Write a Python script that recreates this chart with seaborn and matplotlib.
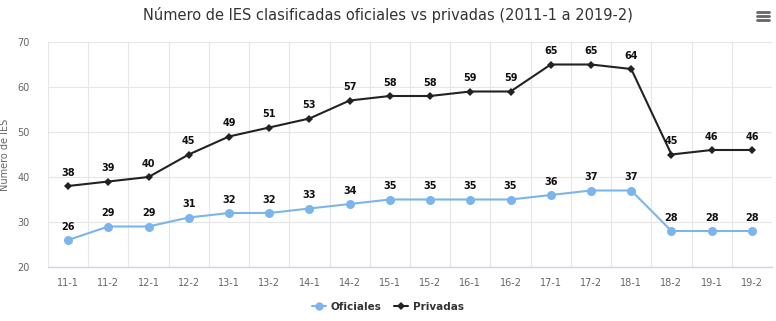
import matplotlib
matplotlib.use("Agg")
import matplotlib.pyplot as plt
import seaborn as sns
import pandas as pd
from matplotlib.lines import Line2D

periodos = ["11-1", "11-2", "12-1", "12-2", "13-1", "13-2", "14-1", "14-2", "15-1",
            "15-2", "16-1", "16-2", "17-1", "17-2", "18-1", "18-2", "19-1", "19-2"]
oficiales = [26, 29, 29, 31, 32, 32, 33, 34, 35, 35, 35, 35, 36, 37, 37, 28, 28, 28]
privadas = [38, 39, 40, 45, 49, 51, 53, 57, 58, 58, 59, 59, 65, 65, 64, 45, 46, 46]
y_ticks = [20, 30, 40, 50, 60, 70]

sns.set_theme(style="white")
plt.rcParams["font.family"] = ["DejaVu Sans"]

df = pd.DataFrame({
    "periodo": periodos * 2,
    "pos": list(range(len(periodos))) * 2,
    "valor": oficiales + privadas,
    "tipo": ["Oficiales"] * len(periodos) + ["Privadas"] * len(periodos),
})

colores = {"Oficiales": "#7cb5ec", "Privadas": "#222226"}
marcas = {"Oficiales": "o", "Privadas": "D"}
tamanos = {"Oficiales": 6.5, "Privadas": 4.5}

fig = plt.figure(figsize=(7.76, 3.21), dpi=100)
ax = fig.add_axes([48 / 776, 1 - 267 / 321, 724 / 776, 225 / 321])

for tipo in ["Oficiales", "Privadas"]:
    sub = df[df["tipo"] == tipo]
    sns.lineplot(data=sub, x="pos", y="valor", ax=ax, color=colores[tipo],
                 marker=marcas[tipo], markersize=tamanos[tipo],
                 markeredgewidth=0, linewidth=1.5, legend=False, zorder=3)
    for x, v in zip(sub["pos"], sub["valor"]):
        ax.annotate(str(v), (x, v), xytext=(0, 6), textcoords="offset points",
                    ha="center", va="bottom", fontsize=7, fontweight="bold",
                    color="#111111", zorder=4)

n = len(periodos)
ax.set_xlim(-0.5, n - 0.5)
ax.set_ylim(20, 70)
ax.set_yticks(y_ticks)
ax.set_xticks(range(n))
ax.set_xticklabels(periodos)
ax.tick_params(axis="both", labelsize=7, colors="#666666", length=0)
ax.tick_params(axis="x", pad=8)
ax.tick_params(axis="y", pad=13)

# category-boundary grid
for b in range(n + 1):
    ax.axvline(b - 0.5, color="#e6e6e6", linewidth=0.8, zorder=0)
for t in y_ticks:
    ax.axhline(t, color="#e6e6e6", linewidth=0.8, zorder=0)
for s in ["top", "right", "left"]:
    ax.spines[s].set_visible(False)
ax.spines["bottom"].set_color("#ccd6eb")
ax.spines["bottom"].set_linewidth(1)
ax.grid(False)

ax.set_xlabel("")
ax.set_ylabel("Numero de IES", fontsize=7, color="#666666")
ax.yaxis.set_label_coords(-38 / 724, 0.5)

fig.text(0.5, 1 - 15 / 321, "Número de IES clasificadas oficiales vs privadas (2011-1 a 2019-2)",
         ha="center", va="center", fontsize=10.5, color="#333333")

# menu icon
for dy in (-4, 0, 4):
    fig.add_artist(Line2D([757 / 776, 769 / 776], [1 - (16 + dy) / 321] * 2,
                          color="#666666", linewidth=2))

handles = [
    Line2D([], [], color=colores["Oficiales"], marker="o", markersize=6, markeredgewidth=0, linewidth=1.5),
    Line2D([], [], color=colores["Privadas"], marker="D", markersize=4, markeredgewidth=0, linewidth=1.5),
]
fig.legend(handles, ["Oficiales", "Privadas"], loc="center", bbox_to_anchor=(0.5, 1 - 307 / 321),
           ncol=2, frameon=False, prop={"size": 7.5, "weight": "bold"}, handlelength=1.3,
           handletextpad=0.5, columnspacing=1.2, labelcolor="#333333")

fig.savefig("out.png", dpi=100)
